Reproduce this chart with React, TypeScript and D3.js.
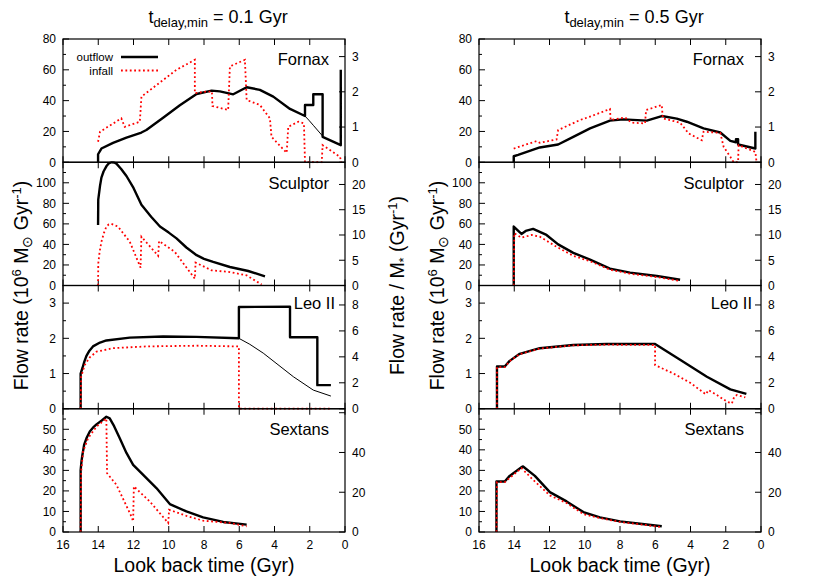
import React from 'react';
import * as d3 from 'd3';

type Pt = [number, number];

// axes / tick values
const timeTicks = [16, 14, 12, 10, 8, 6, 4, 2, 0];
const galaxies = ['Fornax', 'Sculptor', 'Leo II', 'Sextans'];
const flowMax = [80, 120, 3.5, 60];
const specMax = [3.5, 24.4, 9.5, 62];
const flowMajor = [
  [0, 20, 40, 60, 80],
  [0, 20, 40, 60, 80, 100],
  [0, 1, 2, 3],
  [0, 10, 20, 30, 40, 50],
];
const flowMinor = [
  [10, 30, 50, 70],
  [10, 30, 50, 70, 90, 110],
  [0.5, 1.5, 2.5],
  [5, 15, 25, 35, 45, 55],
];
const specTicks = [
  [0, 1, 2, 3],
  [0, 5, 10, 15, 20],
  [0, 2, 4, 6, 8],
  [0, 20, 40, 60],
];
const specLabels = [
  [0, 1, 2, 3],
  [0, 5, 10, 15, 20],
  [0, 2, 4, 6, 8],
  [0, 20, 40],
];

// t_delay,min = 0.1 Gyr  ([look back time, flow rate])
const fornaxOut1: Pt[] = [[14.01, 0], [14.01, 5.2], [13.82, 8.9], [13.16, 12.6], [12.4, 16], [11.55, 19.3], [11.27, 20.9], [10.3, 29], [9.37, 37], [8.42, 44.3], [7.57, 46.5], [7.1, 46], [6.34, 44.1], [5.58, 48.7], [4.83, 47], [4.07, 42.6], [3.12, 34.6], [2.27, 30], [2.27, 37.2], [1.8, 37.2], [1.8, 44.1], [1.27, 44.1], [1.27, 16.5], [0.24, 11.1], [0.24, 60]];
const fornaxThin1: Pt[] = [[2.27, 30], [2.05, 27.3], [1.8, 24], [1.27, 17]];
const fornaxIn1: Pt[] = [[14.01, 13.3], [13.9, 19.8], [12.69, 28.5], [12.5, 23], [11.64, 26.3], [11.55, 42.6], [9.56, 60], [8.52, 66.5], [8.52, 44.8], [7.86, 45.9], [7.55, 45.9], [7.52, 36.5], [6.63, 33.9], [6.53, 62.2], [5.68, 66.5], [5.58, 40.4], [4.83, 37.2], [4.26, 28.5], [4.17, 16.5], [3.31, 6.1], [3.22, 23], [2.65, 26.3], [2.33, 25.2], [2.27, 0], [1.32, 0], [1.27, 11.1], [0.28, 3.5], [0.22, 0]];
const sculptorOut1: Pt[] = [[14.01, 59], [14.0, 83.6], [13.9, 97], [13.82, 105], [13.7, 111], [13.54, 116], [13.4, 119], [13.25, 120], [13.1, 119.8], [12.97, 118.7], [12.7, 113.5], [12.4, 106.6], [12.0, 95], [11.55, 78.7], [11.0, 67], [10.5, 57.4], [10.0, 51.5], [9.56, 45.9], [9.0, 37], [8.42, 29.5], [8.0, 26], [7.48, 23], [6.53, 18], [5.49, 14.1], [4.54, 8.9]];
const sculptorIn1: Pt[] = [[14.01, 0], [14.0, 21.3], [13.92, 33], [13.82, 42.6], [13.68, 51], [13.54, 57.4], [13.4, 59.5], [13.25, 60], [12.88, 57.4], [12.21, 42.6], [11.6, 17.4], [11.55, 47.5], [10.6, 28.9], [10.55, 43.3], [9.66, 32.8], [8.52, 6.6], [8.48, 22.3], [7.57, 14.8], [6.53, 13.1], [5.58, 9.8], [4.73, 1]];
const leoOut1: Pt[] = [[15, 0], [15, 1], [14.9, 1.15], [14.78, 1.35], [14.67, 1.5], [14.5, 1.65], [14.3, 1.77], [13.9, 1.88], [13.54, 1.94], [12.21, 2.02], [10.32, 2.05], [8.43, 2.04], [6.02, 2.0], [6.02, 2.89], [3.12, 2.9], [3.12, 2.03], [1.57, 2.03], [1.57, 0.67], [0.8, 0.67]];
const leoThin1: Pt[] = [[6.02, 2.0], [5.4, 1.83], [4.64, 1.58], [2.93, 0.91], [1.8, 0.53], [0.8, 0.36]];
const leoIn1: Pt[] = [[15, 0], [14.97, 0.91], [14.77, 1.24], [14.48, 1.46], [14.1, 1.62], [13.16, 1.72], [11.27, 1.77], [8.43, 1.79], [6.02, 1.77], [6.02, 0], [0.8, 0]];
const sextansOut1: Pt[] = [[15, 0], [15, 30], [14.95, 34.5], [14.9, 37.5], [14.8, 42.5], [14.65, 46], [14.48, 48.9], [14.3, 50.8], [14.1, 52.4], [13.8, 54.3], [13.54, 56.1], [13.35, 55.3], [13.1, 51.5], [12.78, 45.6], [12.4, 38.5], [12.02, 32.7], [11.45, 27.8], [10.7, 21.4], [9.94, 13.6], [9.0, 10], [8.05, 7.1], [6.91, 4.9], [5.58, 3.6]];
const sextansIn1: Pt[] = [[15, 0], [14.97, 29.4], [14.86, 39.2], [14.58, 45.6], [14.1, 51.3], [13.54, 55.3], [13.5, 28.6], [12.97, 23], [12.12, 7.6], [12.02, 5.2], [11.98, 22.2], [11.08, 14.9], [10.03, 4.4], [9.98, 10.8], [9.0, 7.9], [8.05, 5.5], [6.53, 4.4], [5.58, 2.8]];

// t_delay,min = 0.5 Gyr
const fornaxOut5: Pt[] = [[14.03, 0], [14.03, 3.9], [13.78, 4.8], [12.55, 9.6], [11.51, 11.5], [10.65, 16.5], [9.7, 22], [8.57, 27], [7.81, 27.8], [6.48, 27], [5.63, 30], [4.78, 28.3], [4.21, 26.3], [3.26, 22], [2.31, 19.3], [1.74, 13.9], [1.42, 13], [1.42, 15], [1.3, 15], [1.3, 11.5], [0.32, 8.9], [0.32, 19.8]];
const fornaxIn5: Pt[] = [[14.03, 8.9], [12.74, 13.7], [12.55, 12.6], [11.6, 14.8], [11.51, 20.9], [10.27, 27.4], [9.61, 30], [8.57, 34.6], [8.53, 27.4], [7.72, 29.1], [7.34, 25.7], [6.58, 25.2], [6.52, 33.9], [5.63, 37.2], [5.57, 28.5], [4.59, 25.7], [4.11, 18.7], [3.36, 14.3], [3.26, 19.8], [2.31, 19.1], [2.12, 10], [1.74, 3.5], [1.55, 0], [1.3, 0], [1.27, 11.1], [0.32, 6.7], [0.25, 0]];
const sculptorOut5: Pt[] = [[14.03, 0], [14.03, 57.4], [13.59, 50.2], [13.35, 53.1], [12.93, 55.1], [12.17, 49.2], [11.51, 40], [10.65, 31.8], [9.7, 25.2], [8.57, 16.4], [7.43, 12.5], [5.91, 9.2], [4.59, 5.6]];
const sculptorIn5: Pt[] = [[14.03, 0], [14.0, 50.8], [13.59, 46.6], [13.02, 49.2], [12.55, 47.5], [11.6, 37.7], [10.65, 28.9], [9.7, 23.6], [8.57, 15.4], [7.43, 11.5], [5.91, 8.2], [4.59, 4.3]];
const leoOut5: Pt[] = [[14.98, 0], [14.98, 1.2], [14.54, 1.2], [14.26, 1.36], [13.69, 1.56], [12.55, 1.72], [10.65, 1.81], [8.76, 1.84], [6.01, 1.84], [4.59, 1.39], [3.07, 0.91], [1.74, 0.55], [0.83, 0.42]];
const leoIn5: Pt[] = [[14.98, 0], [14.98, 1.18], [14.54, 1.18], [14.26, 1.35], [13.69, 1.55], [12.55, 1.71], [10.65, 1.8], [8.76, 1.82], [6.01, 1.81], [6.01, 1.24], [4.97, 1.0], [4.02, 0.74], [3.13, 0.41], [2.98, 0.53], [2.5, 0.39], [1.93, 0.2], [1.65, 0.15], [1.52, 0.34], [1.37, 0.39], [0.89, 0.32]];
const sextansOut5: Pt[] = [[15.01, 0], [15.01, 24.6], [14.54, 24.6], [14.26, 27.3], [13.59, 31.6], [13.5, 31.9], [12.83, 27.3], [11.98, 19.4], [11.03, 14.9], [10.08, 9.7], [9.14, 7.1], [8.0, 5.2], [6.86, 4.0], [5.63, 2.8]];
const sextansIn5: Pt[] = [[15.01, 0], [14.98, 24.3], [14.54, 24.3], [13.59, 31.1], [12.93, 25.4], [11.98, 17.8], [11.03, 14.1], [10.08, 8.7], [9.14, 6.8], [8.0, 4.9], [5.63, 2.4]];

const columns = [
  {
    delay: '0.1',
    x0: 63, x1: 345, titleX: 218,
    outflow: [fornaxOut1, sculptorOut1, leoOut1, sextansOut1],
    infall: [fornaxIn1, sculptorIn1, leoIn1, sextansIn1],
    thin: [fornaxThin1, null, leoThin1, null],
    nameDx: [16, 16, 10, 16],
  },
  {
    delay: '0.5',
    x0: 479, x1: 761, titleX: 634,
    outflow: [fornaxOut5, sculptorOut5, leoOut5, sextansOut5],
    infall: [fornaxIn5, sculptorIn5, leoIn5, sextansIn5],
    thin: [null, null, null, null],
    nameDx: [17, 17, 9, 17],
  },
];

const FONT = '"Liberation Sans", Arial, Helvetica, sans-serif';
const TOP = 39;
const PH = 123.25;
const nameDy = [26, 27, 23, 26];

function Column({ col, ci }: { col: any; ci: number }) {
  const x = d3.scaleLinear().domain([16, 0]).range([col.x0, col.x1]);
  const midY = TOP + PH * 2;
  return (
    <g>
      <text x={col.titleX} y={23} textAnchor="middle" fontSize={18}>
        t<tspan fontSize={13} dy={4}>delay,min</tspan>
        <tspan dy={-4}> = {col.delay} Gyr</tspan>
      </text>
      {galaxies.map((name, i) => {
        const y0 = TOP + i * PH;
        const y1 = y0 + PH;
        const y = d3.scaleLinear().domain([0, flowMax[i]]).range([y1, y0]);
        const y2 = d3.scaleLinear().domain([0, specMax[i]]).range([y1, y0]);
        const line = d3.line<Pt>().x((d) => x(d[0])).y((d) => y(d[1]));
        const clip = `clip-${ci}-${i}`;
        return (
          <g key={name}>
            <clipPath id={clip}>
              <rect x={col.x0} y={y0 - 1} width={col.x1 - col.x0} height={PH + 2} />
            </clipPath>
            {timeTicks.map((t) => (
              <g key={t} stroke="#000" strokeWidth={1}>
                <line x1={x(t)} x2={x(t)} y1={y0} y2={y0 + 6} />
                <line x1={x(t)} x2={x(t)} y1={y1} y2={y1 - 6} />
              </g>
            ))}
            {flowMajor[i].map((v) => (
              <g key={'M' + v}>
                <line x1={col.x0} x2={col.x0 + 6} y1={y(v)} y2={y(v)} stroke="#000" />
                <text x={col.x0 - 7} y={y(v) + 4.3} textAnchor="end" fontSize={12}>{v}</text>
              </g>
            ))}
            {flowMinor[i].map((v) => (
              <line key={'m' + v} x1={col.x0} x2={col.x0 + 3} y1={y(v)} y2={y(v)} stroke="#000" />
            ))}
            {specTicks[i].map((v) => (
              <line key={'s' + v} x1={col.x1} x2={col.x1 - 6} y1={y2(v)} y2={y2(v)} stroke="#000" />
            ))}
            {specLabels[i].map((v) => (
              <text key={'sl' + v} x={col.x1 + 7} y={y2(v) + 4.3} fontSize={12}>{v}</text>
            ))}
            <g clipPath={`url(#${clip})`} fill="none">
              <path d={line(col.outflow[i]) || ''} stroke="#000" strokeWidth={2.4} strokeLinejoin="round" />
              {col.thin[i] && (
                <path d={line(col.thin[i]) || ''} stroke="#000" strokeWidth={1} />
              )}
              <path d={line(col.infall[i]) || ''} stroke="#ff0000" strokeWidth={1.8} strokeDasharray="1.8 2.6" />
            </g>
            <rect x={col.x0} y={y0} width={col.x1 - col.x0} height={PH} fill="none" stroke="#000" strokeWidth={1.2} />
            <text x={col.x1 - col.nameDx[i]} y={y0 + nameDy[i]} textAnchor="end" fontSize={16.5}>{name}</text>
          </g>
        );
      })}
      {timeTicks.map((t) => (
        <text key={t} x={x(t)} y={TOP + 4 * PH + 17} textAnchor="middle" fontSize={12}>{t}</text>
      ))}
      <text x={(col.x0 + col.x1) / 2} y={TOP + 4 * PH + 40} textAnchor="middle" fontSize={19.5}>Look back time (Gyr)</text>
      <text transform={`translate(${col.x0 - 35},${midY}) rotate(-90)`} textAnchor="middle" fontSize={19.5}>
        Flow rate (10<tspan fontSize={13} dy={-7}>6</tspan>
        <tspan dy={7}> M</tspan>
        <tspan fontSize={14} dy={4}>⊙</tspan>
        <tspan dy={-4}> Gyr</tspan>
        <tspan fontSize={13} dy={-7}>-1</tspan>
        <tspan dy={7}>)</tspan>
      </text>
      {ci === 0 && (
        <text transform={`translate(${col.x1 + 59},${midY}) rotate(-90)`} textAnchor="middle" fontSize={19.5}>
          Flow rate / M<tspan fontSize={13} dy={4}>*</tspan>
          <tspan dy={-4}> (Gyr</tspan>
          <tspan fontSize={13} dy={-7}>-1</tspan>
          <tspan dy={7}>)</tspan>
        </text>
      )}
      {ci === 0 && (
        <g>
          <text x={113} y={61} textAnchor="end" fontSize={11.5}>outflow</text>
          <line x1={121} x2={158} y1={57} y2={57} stroke="#000" strokeWidth={2.4} />
          <text x={113} y={74.5} textAnchor="end" fontSize={11.5}>infall</text>
          <line x1={121} x2={158} y1={70.5} y2={70.5} stroke="#ff0000" strokeWidth={1.8} strokeDasharray="1.8 2.6" />
        </g>
      )}
    </g>
  );
}

export default function App() {
  return (
    <svg
      width={830}
      height={582}
      style={{ position: 'absolute', left: 0, top: 0, background: '#fff' }}
      fontFamily={FONT}
    >
      <rect width={830} height={582} fill="#fff" />
      {columns.map((col, ci) => (
        <Column key={ci} col={col} ci={ci} />
      ))}
    </svg>
  );
}
